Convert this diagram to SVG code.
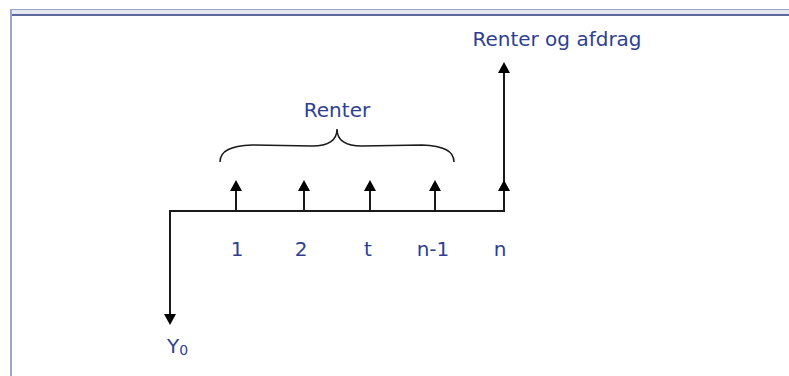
<svg xmlns="http://www.w3.org/2000/svg" width="789" height="376" viewBox="0 0 789 376">
<style>
.t{font-family:"DejaVu Sans","Liberation Sans",sans-serif;font-size:20px;fill:#2f3f8f}
.ln{stroke:#1a1a1a;stroke-width:2;fill:none}
.ah{fill:#000}
</style>
<rect width="789" height="376" fill="#fff"/>
<g id="frame">
<rect x="10" y="9" width="779" height="6" fill="#e6e8f0"/>
<line x1="10" y1="9.5" x2="789" y2="9.5" stroke="#9aa3cc" stroke-width="1"/>
<line x1="10" y1="15" x2="789" y2="15" stroke="#2a3a80" stroke-width="1.6"/>
<line x1="11" y1="9" x2="11" y2="376" stroke="#9ea6cc" stroke-width="2"/>
</g>
<g id="connectors">
<path class="ln" d="M170,320 L170,211 L504,211 L504,70"/>
<polygon class="ah" points="164,314 176,314 170,325"/>
<polygon class="ah" points="498,73 510,73 504,62"/>
<polygon class="ah" points="498,191 510,191 504,180"/>
<line class="ln" x1="236" y1="211" x2="236" y2="189"/>
<polygon class="ah" points="230,191 242,191 236,180"/>
<line class="ln" x1="304" y1="211" x2="304" y2="189"/>
<polygon class="ah" points="298,191 310,191 304,180"/>
<line class="ln" x1="370" y1="211" x2="370" y2="189"/>
<polygon class="ah" points="364,191 376,191 370,180"/>
<line class="ln" x1="435" y1="211" x2="435" y2="189"/>
<polygon class="ah" points="429,191 441,191 435,180"/>
<path d="M220,162 C220,151 230,146 252,145 L312,146 C328,146 337,141 337,129 C337,141 346,146 362,146 L422,145 C444,146 454,151 454,162" fill="none" stroke="#1a1a1a" stroke-width="1.5"/>
</g>
<g id="label-renter-afdrag"><text class="t" x="557" y="46" text-anchor="middle">Renter og afdrag</text></g>
<g id="label-renter"><text class="t" x="337" y="117" text-anchor="middle">Renter</text></g>
<g id="ticks">
<text class="t" x="237" y="256" text-anchor="middle">1</text>
<text class="t" x="301" y="256" text-anchor="middle">2</text>
<text class="t" x="368" y="256" text-anchor="middle">t</text>
<text class="t" x="433" y="256" text-anchor="middle">n-1</text>
<text class="t" x="500" y="256" text-anchor="middle">n</text>
</g>
<g id="label-y0"><text class="t" x="167" y="353">Y<tspan font-size="14" dy="2">0</tspan></text></g>
</svg>
